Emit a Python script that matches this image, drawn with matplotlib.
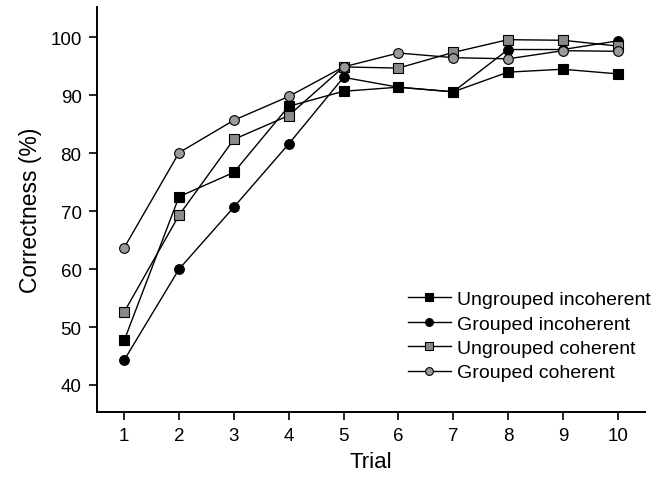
import matplotlib.pyplot as plt

trials = [1, 2, 3, 4, 5, 6, 7, 8, 9, 10]
ungrouped_incoherent = [47.7, 72.5, 76.7, 88.1, 90.7, 91.4, 90.6, 94.0, 94.5, 93.7]
grouped_incoherent = [44.3, 60.0, 70.7, 81.6, 93.1, 91.4, 90.6, 97.9, 97.9, 99.4]
ungrouped_coherent = [52.6, 69.3, 82.4, 86.5, 94.9, 94.7, 97.4, 99.6, 99.5, 98.5]
grouped_coherent = [63.7, 80.1, 85.7, 89.8, 94.9, 97.3, 96.5, 96.3, 97.7, 97.6]
yticks = [40, 50, 60, 70, 80, 90, 100]

plt.rcParams['font.family'] = ['Liberation Sans', 'DejaVu Sans']

fig = plt.figure(figsize=(6.63, 4.85), dpi=100)
ax = fig.add_axes([0.146, 0.148, 0.827, 0.835])

style = dict(color="black", lw=1.0, markersize=7, markeredgecolor="black", markeredgewidth=0.8)
ax.plot(trials, ungrouped_incoherent, marker="s", markerfacecolor="black",
        label="Ungrouped incoherent", **style)
ax.plot(trials, grouped_incoherent, marker="o", markerfacecolor="black",
        label="Grouped incoherent", **style)
ax.plot(trials, ungrouped_coherent, marker="s", markerfacecolor="#8a8a8a",
        label="Ungrouped coherent", **style)
ax.plot(trials, grouped_coherent, marker="o", markerfacecolor="#9a9a9a",
        label="Grouped coherent", **style)

ax.set_xlim(0.5, 10.5)
ax.set_ylim(35.3, 105.2)
ax.set_xticks(trials)
ax.set_yticks(yticks)
ax.tick_params(direction="out", length=6, width=1.2, labelsize=13.5, pad=5)
for s in ["top", "right"]:
    ax.spines[s].set_visible(False)
for s in ["left", "bottom"]:
    ax.spines[s].set_linewidth(1.4)

ax.set_xlabel("Trial", fontsize=16, labelpad=5)
ax.set_ylabel("Correctness (%)", fontsize=16.5, labelpad=6)

ax.legend(loc="lower right", bbox_to_anchor=(1.043, 0.033), frameon=False, fontsize=14,
          handlelength=2.2, handletextpad=0.35, labelspacing=0.35, markerscale=0.8)

fig.savefig("out.png", dpi=100)
